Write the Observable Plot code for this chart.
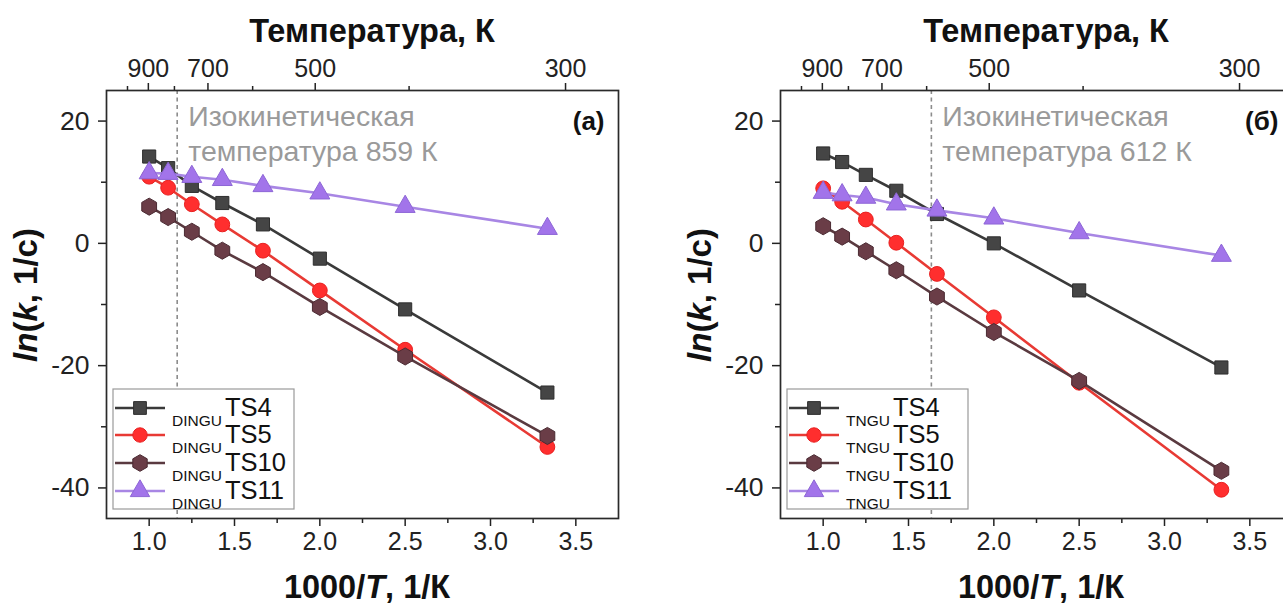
<!DOCTYPE html>
<html><head><meta charset="utf-8">
<script src="https://cdn.jsdelivr.net/npm/d3@7"></script>
<script src="https://cdn.jsdelivr.net/npm/@observablehq/plot@0.6"></script>
<style>
body{margin:0;background:#fff;}
#wrap{position:relative;width:1283px;height:608px;overflow:hidden;background:#fff;}
.panel{position:absolute;top:0;}
</style></head><body><div id="wrap"></div>
<script>
// ---- data ----
const temps = [1000, 900, 800, 700, 600, 500, 400, 300];
const seriesNames = ["TS4", "TS5", "TS10", "TS11"];
const a_TS4  = [14.2, 12.3, 9.4, 6.6, 3.1, -2.5, -10.8, -24.4];
const a_TS5  = [10.9, 9.1, 6.4, 3.1, -1.2, -7.7, -17.4, -33.3];
const a_TS10 = [6.0, 4.3, 1.9, -1.2, -4.7, -10.4, -18.5, -31.5];
const a_TS11 = [11.5, 11.4, 10.9, 10.4, 9.4, 8.2, 6.0, 2.4];
const b_TS4  = [14.7, 13.3, 11.2, 8.6, 4.8, 0.0, -7.7, -20.3];
const b_TS5  = [9.0, 6.8, 3.9, 0.1, -5.0, -12.1, -22.8, -40.3];
const b_TS10 = [2.8, 1.1, -1.3, -4.4, -8.7, -14.5, -22.5, -37.2];
const b_TS11 = [8.3, 7.9, 7.5, 6.4, 5.4, 4.1, 1.7, -2.0];
const isoTemps = [859, 612];
const isoLines = [["Изокинетическая", "температура 859 К"], ["Изокинетическая", "температура 612 К"]];
const panelLabels = ["(a)", "(б)"];
const prefixes = ["DINGU", "TNGU"];
const xTicks = [1.0, 1.5, 2.0, 2.5, 3.0, 3.5];
const xMinor = [1.25, 1.75, 2.25, 2.75, 3.25];
const yTicks = [-40, -20, 0, 20];
const yMinor = [-30, -10, 10];
const topMajorT = [900, 700, 500, 300];
const topMinorT = [1000, 800, 600, 400];
const topTitle = "Температура, К";

// ---- style ----
const symbols = ["square", "circle", "hexagon", "triangle"];
const lineColors = ["#3a3a3a", "#e83a34", "#5a3a40", "#a886e4"];
const fillColors = ["#454545", "#ff2e2e", "#6a3d47", "#a274ea"];
const strokeColors = ["#2e2e2e", "#e82020", "#4a2a32", "#8d66d6"];
const TOP_A = -0.227, TOP_B = 1.10; // top axis placement as in the original figure
const topPos = T => TOP_A + TOP_B * 1000 / T;
const topLabel = d => String(Math.round(1000 * TOP_B / (d - TOP_A) / 100) * 100);
const FONT = "Liberation Sans, Arial, Helvetica, sans-serif";
const W = 674, H = 608;

function hexPath(r) {
  const rx = r, ry = r * 2 / Math.sqrt(3), hy = ry / 2;
  return `M0,${ry}L${rx},${hy}L${rx},${-hy}L0,${-ry}L${-rx},${-hy}L${-rx},${hy}Z`;
}
function symPath(k) {
  const r = 7.2, size = Math.PI * r * r;
  if (symbols[k] === "hexagon") return hexPath(Math.sqrt(size / Math.PI));
  const t = {square: d3.symbolSquare, circle: d3.symbolCircle, triangle: d3.symbolTriangle}[symbols[k]];
  return d3.symbol(t, size)();
}

function panel(idx, series) {
  const marks = [
    Plot.ruleX([isoTemps[idx]], {x: d => 1000 / d, stroke: "#8c8c8c", strokeWidth: 1.6, strokeDasharray: "4,3.5"})
  ];
  seriesNames.forEach((s, k) => {
    const rows = series[k].map((v, i) => ({x: 1000 / temps[i], y: v}));
    marks.push(Plot.line(rows, {x: "x", y: "y", stroke: lineColors[k], strokeWidth: 2.6}));
    marks.push(Plot.dot(rows, {x: "x", y: "y", symbol: symbols[k], r: 7.4, fill: fillColors[k], stroke: strokeColors[k], strokeWidth: 1}));
  });
  marks.push(
    Plot.text([isoLines[idx].join("\n")], {x: () => 1000 / isoTemps[idx], frameAnchor: "top", text: d => d, dx: 11, dy: 10,
      textAnchor: "start", lineAnchor: "top", lineHeight: 1.24, fill: "#9a9a9a", fontSize: 28.5}),
    Plot.text([panelLabels[idx]], {frameAnchor: "top-right", text: d => d, dx: -14, dy: 31, textAnchor: "end",
      lineAnchor: "middle", fontWeight: "bold", fontSize: 26, fill: "#111"}),
    Plot.axisX({ticks: xTicks, anchor: "bottom", tickSize: 8, tickPadding: 6, tickFormat: d => d.toFixed(1), label: null, strokeWidth: 1.5, color: "#222"}),
    Plot.axisX({ticks: xMinor, anchor: "bottom", tickSize: 5, tickFormat: () => "", label: null, strokeWidth: 1.5, color: "#222"}),
    Plot.axisY({ticks: yTicks, anchor: "left", tickSize: 8, tickPadding: 9, tickFormat: d => String(d), label: null, strokeWidth: 1.5, color: "#222", fontSize: 26.5}),
    Plot.axisY({ticks: yMinor, anchor: "left", tickSize: 5, tickFormat: () => "", label: null, strokeWidth: 1.5, color: "#222"}),
    Plot.axisX({ticks: topMajorT.map(topPos), anchor: "top", tickSize: 8, tickPadding: 6, tickFormat: topLabel, label: null, strokeWidth: 1.5, color: "#222"}),
    Plot.axisX({ticks: topMinorT.map(topPos), anchor: "top", tickSize: 5, tickFormat: () => "", label: null, strokeWidth: 1.5, color: "#222"}),
    Plot.frame({stroke: "#2a2a2a", strokeWidth: 1.7})
  );
  const svg = Plot.plot({
    width: W, height: H,
    marginLeft: 106, marginRight: 56, marginTop: 90, marginBottom: 90,
    x: {domain: [0.75, 3.75]},
    y: {domain: [-45, 25]},
    style: {fontFamily: FONT, fontSize: "25px", color: "#111", background: "white", overflow: "visible"},
    marks
  });
  const g = d3.select(svg).append("g").attr("font-family", FONT).attr("fill", "#111").attr("text-anchor", "start");
  // titles
  g.append("text").attr("x", 372).attr("y", 42).attr("text-anchor", "middle")
    .attr("font-weight", "bold").attr("font-size", 32.5).text(topTitle);
  const bt = g.append("text").attr("x", 367).attr("y", 598).attr("text-anchor", "middle")
    .attr("font-weight", "bold").attr("font-size", 32.5);
  bt.append("tspan").text("1000/");
  bt.append("tspan").attr("font-style", "italic").text("T");
  bt.append("tspan").text(", 1/К");
  const yt = g.append("text").attr("transform", "translate(37,295) rotate(-90)").attr("text-anchor", "middle")
    .attr("font-weight", "bold").attr("font-size", 33);
  yt.append("tspan").attr("font-style", "italic").text("ln");
  yt.append("tspan").text("(");
  yt.append("tspan").attr("font-style", "italic").text("k");
  yt.append("tspan").text(", 1/c)");
  // legend
  const lg = g.append("g");
  lg.append("rect").attr("x", 113).attr("y", 389).attr("width", 181).attr("height", 120)
    .attr("fill", "white").attr("stroke", "#9a9a9a").attr("stroke-width", 1.2);
  const ly = [408, 435, 463, 491];
  seriesNames.forEach((s, k) => {
    const y = ly[k];
    lg.append("line").attr("x1", 115).attr("x2", 165).attr("y1", y).attr("y2", y)
      .attr("stroke", lineColors[k]).attr("stroke-width", 2.6);
    lg.append("path").attr("d", symPath(k)).attr("transform", `translate(140,${y})`)
      .attr("fill", fillColors[k]).attr("stroke", strokeColors[k]).attr("stroke-width", 1);
    const t = lg.append("text").attr("x", 172).attr("fill", "#111").attr("text-anchor", "start");
    t.append("tspan").attr("y", y + 18).attr("font-size", 15.5).text(prefixes[idx]);
    t.append("tspan").attr("y", y + 8).attr("dx", 3).attr("font-size", 25.5).text(s);
  });
  svg.classList.add("panel");
  svg.style.left = (idx * W) + "px";
  return svg;
}
const wrap = document.getElementById("wrap");
wrap.appendChild(panel(0, [a_TS4, a_TS5, a_TS10, a_TS11]));
wrap.appendChild(panel(1, [b_TS4, b_TS5, b_TS10, b_TS11]));
</script></body></html>
